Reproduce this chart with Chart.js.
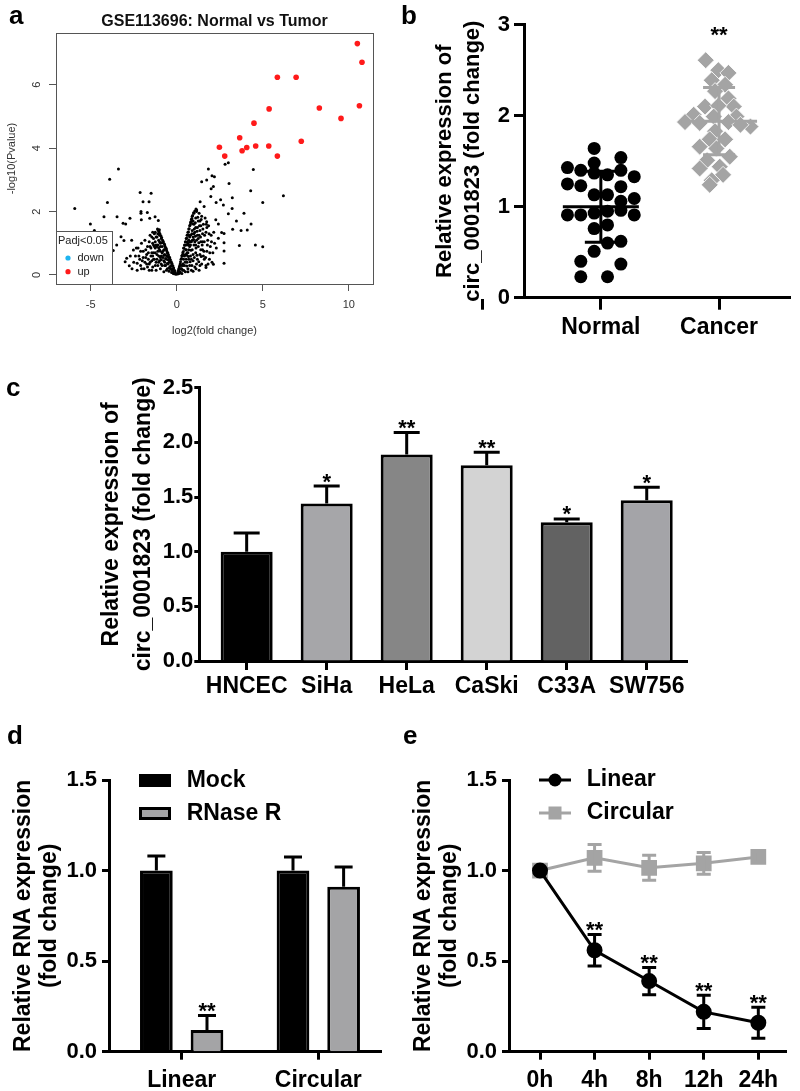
<!DOCTYPE html>
<html>
<head>
<meta charset="utf-8">
<script src="https://cdn.jsdelivr.net/npm/chart.js@4.4.1/dist/chart.umd.min.js"></script>
<style>
  body { margin: 0; background: #fff; width: 800px; height: 1091px; position: relative; overflow: hidden; }
  canvas { position: absolute; }
  .tag { position: absolute; font: bold 26px 'Liberation Sans', Arial, sans-serif; line-height: 1; }
</style>
</head>
<body>
<canvas id="chartA" width="400" height="345" style="left:0;top:0"></canvas>
<canvas id="chartB" width="400" height="345" style="left:400px;top:0"></canvas>
<canvas id="chartC" width="800" height="345" style="left:0;top:360px"></canvas>
<canvas id="chartD" width="400" height="371" style="left:0;top:720px"></canvas>
<canvas id="chartE" width="400" height="371" style="left:400px;top:720px"></canvas>
<div class="tag" style="left:9px;top:2px">a</div>
<div class="tag" style="left:401px;top:2px">b</div>
<div class="tag" style="left:6px;top:374px">c</div>
<div class="tag" style="left:7px;top:722px">d</div>
<div class="tag" style="left:403px;top:722px">e</div>
<script>
// ---- panel a: volcano plot ----
const volcanoTitle = 'GSE113696: Normal vs Tumor';
const volcanoGroups = ['down', 'up'];
const volcanoUp = [
  [10.50, 7.30], [10.77, 6.71], [5.85, 6.24], [6.94, 6.24], [5.37, 5.24], [8.29, 5.27],
  [10.62, 5.34], [9.55, 4.94], [4.49, 4.79], [3.66, 4.33], [7.24, 4.22], [2.48, 4.03],
  [4.07, 4.02], [4.59, 4.07], [5.35, 4.07], [3.80, 3.92], [2.79, 3.75], [5.85, 3.75]
];
const volcanoOutliers = [
  [-5.93, 2.10], [-5.02, 1.61], [-4.79, 1.40], [-4.23, 1.84], [-4.03, 2.29], [-3.90, 3.02],
  [-3.39, 3.34], [-3.47, 1.84], [-3.12, 1.63], [-2.97, 1.61], [-2.72, 1.79], [-3.24, 1.21],
  [-3.07, 1.09], [-3.49, 0.95], [-3.69, 0.77], [-2.62, 1.10], [-2.52, 0.79], [-2.91, 0.53],
  [-3.00, 0.42], [-2.76, 0.29], [-2.30, 0.37], [-2.13, 2.60], [-1.49, 2.58], [-1.96, 2.31],
  [-1.61, 2.31], [-2.08, 2.00], [-2.08, 1.95], [-1.71, 1.97], [-2.06, 1.74], [-1.57, 1.79],
  [-1.26, 1.84], [-1.07, 1.72], [-1.01, 1.43],
  [1.84, 3.34], [1.45, 2.94], [1.74, 3.00], [2.05, 3.13], [2.19, 3.10], [2.81, 3.49],
  [3.00, 3.54], [4.45, 3.33], [2.00, 2.72], [3.04, 2.89], [4.30, 2.66], [6.20, 2.50],
  [5.00, 2.29], [2.29, 2.29], [2.55, 2.37], [2.71, 2.21], [3.23, 2.44], [3.22, 2.10],
  [3.00, 1.93], [3.91, 1.95], [3.47, 1.70], [4.32, 1.61], [3.25, 1.44], [3.74, 1.40],
  [4.10, 1.42], [2.75, 1.31], [2.75, 1.02], [2.75, 0.76], [3.64, 0.93], [4.57, 0.95],
  [5.00, 0.89], [2.75, 0.37], [2.13, 0.34], [1.70, 0.24], [2.42, 1.61], [2.61, 1.34],
  [2.42, 1.16], [2.27, 1.74], [1.74, 1.68], [1.59, 2.16], [1.36, 2.31], [1.16, 2.05],
  [1.98, 2.48], [2.13, 2.79]
];
const volcanoCore = [
  [-0.05, 0.02], [-0.10, 0.05], [-0.15, 0.10], [-0.20, 0.20], [-0.25, 0.15], [-0.30, 0.30],
  [-0.30, 0.08], [-0.35, 0.40], [-0.40, 0.25], [-0.40, 0.50], [-0.45, 0.12], [-0.50, 0.60],
  [-0.50, 0.35], [-0.55, 0.70], [-0.55, 0.20], [-0.60, 0.50], [-0.60, 0.80], [-0.65, 0.30],
  [-0.65, 0.85], [-0.70, 0.65], [-0.70, 0.95], [-0.75, 0.10], [-0.75, 0.45], [-0.80, 1.05],
  [-0.80, 0.75], [-0.85, 0.30], [-0.85, 0.90], [-0.90, 1.15], [-0.90, 0.60], [-0.95, 0.20],
  [-0.95, 1.00], [-1.00, 1.25], [-1.00, 0.80], [-1.00, 0.45], [-1.05, 1.10], [-1.10, 0.30],
  [-1.10, 0.95], [-1.10, 1.30], [-1.15, 0.65], [-1.20, 1.20], [-1.20, 0.15], [-1.25, 0.85],
  [-1.25, 1.05], [-1.30, 0.50], [-1.30, 1.30], [-1.35, 0.70], [-1.40, 1.00], [-1.40, 0.25],
  [-1.45, 1.20], [-1.50, 0.60], [-1.50, 0.85], [-1.55, 0.40], [-1.60, 1.05], [-1.60, 0.15],
  [-1.65, 0.70], [-1.70, 0.90], [-1.75, 0.35], [-1.80, 0.55], [-1.85, 1.10], [-1.90, 0.20],
  [-1.95, 0.75], [-2.00, 0.45], [-2.05, 1.00], [-2.10, 0.30], [-2.20, 0.60], [-2.30, 0.15],
  [-2.35, 0.85], [-2.50, 0.40], [-2.60, 0.20], [-2.70, 0.60], [-0.25, 0.30], [-0.45, 0.55],
  [-0.90, 0.35], [-1.05, 0.60], [-1.15, 0.90], [-1.35, 1.15], [-1.70, 0.25], [-0.70, 0.30],
  [-0.20, 0.05], [-0.35, 0.18], [-0.80, 0.55], [-1.20, 0.40], [-1.45, 0.45], [-1.80, 0.80],
  [-0.60, 0.15], [-0.95, 0.75], [-1.30, 0.90], [-1.55, 1.25], [-2.10, 0.75], [-1.00, 1.05],
  [-0.08, 0.08], [-0.12, 0.14], [-0.18, 0.22], [-0.22, 0.28], [-0.28, 0.36], [-0.32, 0.42],
  [-0.38, 0.48], [-0.42, 0.56], [-0.48, 0.64], [-0.52, 0.70], [-0.58, 0.76], [-0.62, 0.84],
  [-0.68, 0.90], [-0.72, 0.98], [-0.78, 1.04], [-0.82, 1.10], [-0.88, 1.18], [-0.92, 1.24],
  [-0.98, 1.30], [-1.02, 1.36], [-1.08, 1.40], [-1.12, 1.45], [-0.15, 0.04], [-0.25, 0.08],
  [-0.35, 0.28], [-0.45, 0.40], [-0.55, 0.36], [-0.55, 0.58], [-0.65, 0.52], [-0.75, 0.62],
  [-0.75, 0.80], [-0.85, 0.70], [-0.85, 1.02], [-0.95, 0.90], [-0.95, 0.55], [-1.05, 0.85],
  [-1.05, 0.40], [-1.15, 1.20], [-1.15, 0.50], [-1.25, 0.70], [-1.25, 0.30], [-1.35, 0.95],
  [-1.35, 0.50], [-1.45, 0.70], [-1.45, 0.15], [-1.55, 0.90], [-1.65, 0.50], [-1.75, 0.65],
  [-1.85, 0.40], [-1.95, 0.55], [-2.05, 0.20], [-2.15, 0.50], [-2.25, 0.85], [-2.40, 0.60],
  [-1.20, 0.95], [-1.10, 0.75], [-0.65, 0.62], [-0.45, 0.22], [-0.30, 0.20], [-0.50, 0.48],
  [-0.70, 0.40], [-0.90, 0.48], [-1.40, 0.60], [-1.60, 0.35], [-1.25, 1.35], [-1.40, 1.35],
  [0.05, 0.03], [0.10, 0.15], [0.12, 0.05], [0.15, 0.25], [0.20, 0.10], [0.20, 0.35],
  [0.25, 0.50], [0.25, 0.20], [0.30, 0.60], [0.30, 0.05], [0.35, 0.35], [0.35, 0.70],
  [0.40, 0.15], [0.40, 0.85], [0.40, 0.50], [0.45, 0.95], [0.45, 0.30], [0.50, 1.05],
  [0.50, 0.65], [0.50, 0.10], [0.55, 0.80], [0.55, 1.15], [0.60, 0.40], [0.60, 1.25],
  [0.60, 0.95], [0.65, 0.20], [0.65, 1.35], [0.65, 0.70], [0.70, 1.10], [0.70, 1.45],
  [0.70, 0.50], [0.75, 0.90], [0.75, 1.55], [0.75, 0.30], [0.80, 1.25], [0.80, 1.65],
  [0.80, 0.60], [0.85, 1.05], [0.85, 0.15], [0.85, 1.75], [0.90, 1.40], [0.90, 0.80],
  [0.90, 1.85], [0.95, 0.45], [0.95, 1.20], [1.00, 1.60], [1.00, 0.95], [1.00, 1.95],
  [1.05, 0.25], [1.05, 1.35], [1.10, 1.80], [1.10, 0.70], [1.15, 1.10], [1.15, 2.00],
  [1.20, 0.50], [1.20, 1.50], [1.25, 0.90], [1.25, 1.70], [1.30, 0.15], [1.30, 1.25],
  [1.30, 1.95], [1.35, 0.65], [1.40, 1.05], [1.40, 1.55], [1.45, 0.35], [1.45, 1.85],
  [1.50, 0.80], [1.50, 1.30], [1.55, 1.60], [1.60, 0.50], [1.60, 1.05], [1.65, 1.80],
  [1.70, 0.30], [1.70, 1.35], [1.75, 0.75], [1.80, 1.10], [1.85, 1.55], [1.90, 0.50],
  [1.95, 0.90], [2.00, 1.25], [0.30, 0.30], [0.45, 0.60], [0.55, 0.50], [0.65, 1.00],
  [0.75, 1.20], [0.85, 0.50], [0.95, 1.70], [1.05, 1.05], [1.15, 0.35], [1.20, 1.25],
  [1.35, 1.40], [1.50, 1.05], [0.70, 0.80], [0.80, 0.95], [0.90, 1.10], [1.00, 1.30],
  [1.10, 1.50], [1.25, 1.15], [1.40, 0.80], [0.15, 0.10], [0.35, 0.15], [0.60, 0.70],
  [1.10, 0.95], [1.35, 1.70], [1.55, 0.60], [1.75, 1.50], [2.10, 0.70], [2.20, 1.00],
  [0.08, 0.10], [0.12, 0.20], [0.18, 0.30], [0.22, 0.42], [0.28, 0.52], [0.32, 0.62],
  [0.38, 0.74], [0.42, 0.84], [0.48, 0.94], [0.52, 1.04], [0.58, 1.16], [0.62, 1.26],
  [0.68, 1.36], [0.72, 1.46], [0.78, 1.58], [0.82, 1.68], [0.88, 1.78], [0.92, 1.88],
  [0.98, 1.96], [1.05, 2.02], [1.12, 2.08], [0.18, 0.06], [0.28, 0.20], [0.38, 0.30],
  [0.42, 0.62], [0.48, 0.40], [0.52, 0.80], [0.58, 0.28], [0.58, 0.62], [0.62, 1.05],
  [0.68, 0.58], [0.72, 0.95], [0.72, 1.25], [0.78, 0.42], [0.78, 1.05], [0.82, 0.78],
  [0.88, 1.30], [0.88, 0.30], [0.92, 1.62], [0.95, 0.65], [0.98, 1.12], [1.02, 1.45],
  [1.02, 0.55], [1.08, 1.22], [1.08, 1.65], [1.12, 0.85], [1.18, 1.38], [1.18, 0.62],
  [1.22, 1.82], [1.28, 1.02], [1.28, 0.42], [1.32, 1.55], [1.38, 1.20], [1.42, 0.58],
  [1.42, 1.75], [1.48, 0.95], [1.52, 1.45], [1.58, 0.75], [1.62, 1.25], [1.68, 0.55],
  [1.72, 1.60], [1.78, 0.95], [1.82, 0.35], [1.88, 1.30], [1.92, 0.70], [2.02, 1.05],
  [2.05, 0.40], [2.15, 1.35], [2.30, 0.85], [1.12, 0.20], [1.35, 0.30], [0.65, 0.10],
  [0.95, 0.12]
];
const volcanoXTicks = [-5, 0, 5, 10];
const volcanoYTicks = [0, 2, 4, 6];

// ---- panel b: dot plot ----
const groupNames = ['Normal', 'Cancer'];
const normalValues = [1.64, 1.54, 1.43, 1.40, 1.48, 1.37, 1.35, 1.40, 1.33, 1.25, 1.23, 1.22, 1.13, 1.13, 1.06, 1.09,
  0.91, 0.91, 0.93, 0.95, 0.96, 0.91, 0.76, 0.80, 0.60, 0.62, 0.51, 0.40, 0.37, 0.23, 0.23];
const normalCols = [-0.5, 1.5, -2.5, -1.5, -0.5, -0.5, 0.5, 1.5, 2.5, -2.5, -1.5, 1.5, -0.5, 0.5, 1.5, 2.5,
  -2.5, -1.5, -0.5, 0.5, 1.5, 2.5, -0.5, 0.5, 0.5, 1.5, -0.5, -1.5, 1.5, -1.5, 0.5];
const cancerValues = [2.61, 2.50, 2.47, 2.39, 2.34, 2.27, 2.19, 2.10, 2.10, 2.11, 2.01, 1.99, 1.99, 1.93, 1.92,
  1.93, 1.88, 1.90, 1.83, 1.74, 1.74, 1.66, 1.64, 1.55, 1.51, 1.44, 1.42, 1.35, 1.29, 1.24];
const cancerCols = [-1.0, -0.05, 0.7, -0.55, 0.45, -0.3, 0.7, -1.05, 1.1, -0.05, -1.9, 1.3, -0.4, -2.55, -1.45,
  0.7, 2.35, 1.6, -0.3, -0.7, 0.45, -1.45, -0.2, 0.8, -0.9, 0.05, -1.45, 0.3, -0.55, -0.7];
const groupMeans = [1.00, 1.94];
const groupSD = [0.39, 0.37];
const groupStars = ['', '**'];

// ---- panel c: cell lines ----
const cellLines = ['HNCEC', 'SiHa', 'HeLa', 'CaSki', 'C33A', 'SW756'];
const cellExpr = [1.00, 1.44, 1.89, 1.79, 1.27, 1.47];
const cellErr = [0.17, 0.16, 0.20, 0.12, 0.03, 0.12];
const cellStars = ['', '*', '**', '**', '*', '*'];
const cellColors = ['#000000', '#a6a6a9', '#868686', '#d3d3d3', '#626262', '#a4a4a8'];

// ---- panel d: RNase R ----
const rnaTypes = ['Linear', 'Circular'];
const mockExpr = [1.00, 1.00];
const mockErr = [0.08, 0.075];
const rnaseExpr = [0.12, 0.91];
const rnaseErr = [0.08, 0.11];
const rnaseStars = ['**', ''];

// ---- panel e: time course ----
const timePoints = ['0h', '4h', '8h', '12h', '24h'];
const linearExpr = [1.00, 0.56, 0.39, 0.22, 0.16];
const linearErr = [0, 0.087, 0.075, 0.092, 0.086];
const linearStars = ['', '**', '**', '**', '**'];
const circularExpr = [1.00, 1.07, 1.015, 1.04, 1.075];
const circularErr = [0, 0.074, 0.069, 0.06, 0.03];

const FONT = "'Liberation Sans', Arial, sans-serif";
Chart.defaults.font.family = FONT;
Chart.defaults.color = '#000';
Chart.defaults.animation = false;
Chart.defaults.plugins.legend.display = false;
Chart.defaults.plugins.tooltip.enabled = false;

const fixWidth = w => s => { s.width = w; };
const fixHeight = h => s => { s.height = h; };
const setTicks = vals => s => { s.ticks = vals.map(v => ({ value: v })); };

function drawStars(ctx, text, x, capY) {
  ctx.save();
  ctx.font = 'bold 22px ' + FONT;
  ctx.fillStyle = '#000';
  ctx.textAlign = 'center';
  ctx.textBaseline = 'alphabetic';
  ctx.fillText(text, x, capY + 2.5);
  ctx.restore();
}

// prism style y axis
function prismY(max, step, width, tickLen, pad, title, size, lh, titlePad) {
  return {
    min: 0, max: max,
    afterFit: fixWidth(width),
    border: { color: '#000', width: 3 },
    grid: { drawOnChartArea: false, tickLength: tickLen, tickWidth: 3, tickColor: '#000' },
    ticks: { stepSize: step, padding: pad, font: { size: 22, weight: 'bold' },
      callback: v => step < 1 ? v.toFixed(1) : String(v) },
    title: { display: true, text: title, font: { size: size, weight: 'bold', lineHeight: lh },
      padding: { top: titlePad, bottom: 0 } }
  };
}
function prismX(min, max, names, height, tickLen, pad) {
  return {
    type: 'linear', offset: false, min: min, max: max,
    afterBuildTicks: setTicks(names.map((n, i) => i)),
    afterFit: fixHeight(height),
    border: { color: '#000', width: 3 },
    grid: { offset: false, drawOnChartArea: false, tickLength: tickLen, tickWidth: 3, tickColor: '#000' },
    ticks: { padding: pad, autoSkip: false, maxRotation: 0, font: { size: 23, weight: 'bold' },
      callback: v => names[v] }
  };
}

const barErrors = {
  id: 'barErrors',
  afterDatasetsDraw(chart) {
    const ctx = chart.ctx, yS = chart.scales.y;
    chart.data.datasets.forEach((ds, di) => {
      chart.getDatasetMeta(di).data.forEach((bar, i) => {
        const top = yS.getPixelForValue(ds.data[i].y + ds.errors[i]);
        ctx.save();
        ctx.strokeStyle = '#000';
        ctx.lineWidth = 3;
        ctx.beginPath();
        ctx.moveTo(bar.x, bar.y);
        ctx.lineTo(bar.x, top);
        ctx.moveTo(bar.x - ds.capHalf, top);
        ctx.lineTo(bar.x + ds.capHalf, top);
        ctx.stroke();
        ctx.restore();
        if (ds.stars && ds.stars[i]) drawStars(ctx, ds.stars[i], bar.x, top);
      });
    });
  }
};

// ---------- a ----------
new Chart(document.getElementById('chartA'), {
  type: 'scatter',
  data: {
    datasets: [
      { label: 'up', data: volcanoUp.map(p => ({ x: p[0], y: p[1] })),
        backgroundColor: '#ff1a1a', pointRadius: 2.8, borderWidth: 0 },
      { label: 'ns', data: volcanoOutliers.concat(volcanoCore).map(p => ({ x: p[0], y: p[1] })),
        backgroundColor: '#000', pointRadius: 1.5, borderWidth: 0 }
    ]
  },
  options: {
    responsive: false,
    layout: { padding: { left: 0, right: 27, top: 33, bottom: 0 } },
    scales: {
      x: {
        type: 'linear', min: -7.02, max: 11.41,
        afterBuildTicks: setTicks(volcanoXTicks), afterFit: fixHeight(61),
        border: { color: '#555', width: 1 },
        grid: { drawOnChartArea: false, tickLength: 7, tickColor: '#555' },
        ticks: { padding: 7, color: '#333', font: { size: 11 } },
        title: { display: true, text: 'log2(fold change)', color: '#333', font: { size: 11 },
          padding: { top: 0, bottom: 7 } }
      },
      y: {
        min: -0.284, max: 7.634,
        afterBuildTicks: setTicks(volcanoYTicks), afterFit: fixWidth(56),
        border: { color: '#555', width: 1 },
        grid: { drawOnChartArea: false, tickLength: 7, tickColor: '#555' },
        ticks: { padding: 9, color: '#333', font: { size: 11 }, minRotation: 90, maxRotation: 90, crossAlign: 'center' },
        title: { display: true, text: '-log10(Pvalue)', color: '#333', font: { size: 11 },
          padding: { top: 5, bottom: 0 } }
      }
    }
  },
  plugins: [{
    id: 'volcanoDecor',
    afterDatasetsDraw(chart) {
      const ctx = chart.ctx, a = chart.chartArea;
      ctx.save();
      ctx.strokeStyle = '#555';
      ctx.lineWidth = 1;
      ctx.strokeRect(a.left + 0.5, a.top + 0.5, a.right - a.left, a.bottom - a.top);
      // legend box
      ctx.fillStyle = '#fff';
      ctx.fillRect(a.left, a.bottom - 53, 56, 53);
      ctx.strokeRect(a.left + 0.5, a.bottom - 52.5, 56, 53);
      ctx.font = '11px ' + FONT;
      ctx.fillStyle = '#222';
      ctx.textBaseline = 'middle';
      ctx.fillText('Padj<0.05', a.left + 2, a.bottom - 43.5);
      const colors = ['#1eb4f0', '#ff1a1a'];
      volcanoGroups.forEach((g, i) => {
        const y = a.bottom - 26 + i * 13.7;
        ctx.fillStyle = colors[i];
        ctx.beginPath();
        ctx.arc(a.left + 12, y, 2.6, 0, Math.PI * 2);
        ctx.fill();
        ctx.fillStyle = '#222';
        ctx.fillText(g, a.left + 21.5, y);
      });
      // title
      ctx.font = 'bold 16px ' + FONT;
      ctx.fillStyle = '#111';
      ctx.textAlign = 'center';
      ctx.fillText(volcanoTitle, (a.left + a.right) / 2, 22);
      ctx.restore();
    }
  }]
});

// ---------- b ----------
const colStep = 0.113;
new Chart(document.getElementById('chartB'), {
  type: 'scatter',
  data: {
    datasets: [
      { label: groupNames[0], data: normalValues.map((v, i) => ({ x: 1 + normalCols[i] * colStep, y: v })),
        backgroundColor: '#000', pointRadius: 6.5, borderWidth: 0 },
      { label: groupNames[1], data: cancerValues.map((v, i) => ({ x: 2 + cancerCols[i] * colStep, y: v })),
        backgroundColor: '#a4a4a4', borderColor: '#fff', borderWidth: 0.8, pointStyle: 'rectRot', pointRadius: 8.5 }
    ]
  },
  options: {
    responsive: false,
    layout: { padding: { left: 0, right: 10, top: 24.7, bottom: 0 } },
    scales: {
      x: prismX(0.35, 2.6, ['', ...groupNames], 47.3, 12, 4.5),
      y: prismY(3, 1, 124, 10, 4, ['Relative expression of', 'circ_0001823 (fold change)'], 22, 1.26, 31.5)
    }
  },
  plugins: [{
    id: 'meanSD',
    afterDatasetsDraw(chart) {
      const ctx = chart.ctx, xS = chart.scales.x, yS = chart.scales.y;
      const colors = ['#000', '#a4a4a4'];
      groupMeans.forEach((m, g) => {
        const cx = xS.getPixelForValue(g + 1);
        const ym = yS.getPixelForValue(m);
        const yt = yS.getPixelForValue(m + groupSD[g]);
        const yb = yS.getPixelForValue(m - groupSD[g]);
        ctx.save();
        ctx.strokeStyle = colors[g];
        ctx.lineWidth = 3;
        ctx.beginPath();
        ctx.moveTo(cx - 38, ym); ctx.lineTo(cx + 38, ym);
        ctx.moveTo(cx, yt); ctx.lineTo(cx, yb);
        ctx.moveTo(cx - 16, yt); ctx.lineTo(cx + 16, yt);
        ctx.moveTo(cx - 16, yb); ctx.lineTo(cx + 16, yb);
        ctx.stroke();
        ctx.restore();
        if (groupStars[g]) drawStars(ctx, groupStars[g], cx, yS.getPixelForValue(3) + 15);
      });
    }
  }]
});

// ---------- c ----------
new Chart(document.getElementById('chartC'), {
  type: 'bar',
  data: {
    datasets: [{
      label: 'circ_0001823',
      data: cellExpr.map((v, i) => ({ x: i, y: v })),
      backgroundColor: cellColors, borderColor: '#000', borderWidth: 3,
      barPercentage: 0.65, categoryPercentage: 1,
      errors: cellErr, stars: cellStars, capHalf: 13
    }]
  },
  options: {
    responsive: false,
    layout: { padding: { left: 0, right: 112.7, top: 27.7, bottom: 0 } },
    scales: {
      x: prismX(-0.592, 5.507, cellLines, 44, 9, 3),
      y: prismY(2.5, 0.5, 199.3, 5, 1, ['Relative expression of', 'circ_0001823 (fold change)'], 23, 1.375, 96)
    }
  },
  plugins: [barErrors]
});

// ---------- d ----------
new Chart(document.getElementById('chartD'), {
  type: 'bar',
  data: {
    datasets: [
      { label: 'Mock', data: mockExpr.map((v, i) => ({ x: i, y: v })),
        backgroundColor: '#000', borderColor: '#000', borderWidth: 3,
        categoryPercentage: 0.741, barPercentage: 0.646, errors: mockErr, capHalf: 9 },
      { label: 'RNase R', data: rnaseExpr.map((v, i) => ({ x: i, y: v })),
        backgroundColor: '#a4a4a6', borderColor: '#000', borderWidth: 3,
        categoryPercentage: 0.741, barPercentage: 0.646, errors: rnaseErr, stars: rnaseStars, capHalf: 9 }
    ]
  },
  options: {
    responsive: false,
    layout: { padding: { left: 0, right: 18.3, top: 60, bottom: 0 } },
    scales: {
      x: prismX(-0.532, 1.464, rnaTypes, 39.3, 8, 7),
      y: prismY(1.5, 0.5, 109, 7, 5, ['Relative RNA expression', '(fold change)'], 23, 1.16, 10)
    }
  },
  plugins: [barErrors, {
    id: 'legendD',
    afterDraw(chart) {
      const ctx = chart.ctx, a = chart.chartArea;
      chart.data.datasets.forEach((ds, i) => {
        const y = a.top + 0.5 + i * 33;
        ctx.save();
        ctx.fillStyle = ds.backgroundColor;
        ctx.fillRect(a.left + 31.5, y - 5, 29, 10);
        ctx.strokeStyle = '#000';
        ctx.lineWidth = 3;
        ctx.strokeRect(a.left + 31.5, y - 5, 29, 10);
        ctx.fillStyle = '#000';
        ctx.font = 'bold 23px ' + FONT;
        ctx.textBaseline = 'middle';
        ctx.fillText(ds.label, a.left + 77.7, y);
        ctx.restore();
      });
    }
  }]
});

// ---------- e ----------
new Chart(document.getElementById('chartE'), {
  type: 'line',
  data: {
    datasets: [
      { label: 'Linear', data: linearExpr.map((v, i) => ({ x: i, y: v })),
        borderColor: '#000', backgroundColor: '#000', borderWidth: 3, tension: 0,
        pointStyle: 'circle', pointRadius: 6.5, errors: linearErr, stars: linearStars },
      { label: 'Circular', data: circularExpr.map((v, i) => ({ x: i, y: v })),
        borderColor: '#a4a4a4', backgroundColor: '#a4a4a4', borderWidth: 3, tension: 0,
        pointStyle: 'rect', pointRadius: 9, errors: circularErr }
    ]
  },
  options: {
    responsive: false,
    layout: { padding: { left: 0, right: 13.3, top: 60, bottom: 0 } },
    scales: {
      x: prismX(-0.568, 4.52, timePoints, 39.3, 8, 7),
      y: prismY(1.5, 0.5, 109, 7, 5, ['Relative RNA expression', '(fold change)'], 23, 1.16, 10)
    }
  },
  plugins: [{
    id: 'lineErrors',
    afterDatasetsDraw(chart) {
      const ctx = chart.ctx, yS = chart.scales.y;
      chart.data.datasets.forEach((ds, di) => {
        chart.getDatasetMeta(di).data.forEach((pt, i) => {
          const e = ds.errors[i];
          if (!e) return;
          const v = ds.data[i].y;
          const t = yS.getPixelForValue(v + e), b = yS.getPixelForValue(v - e);
          ctx.save();
          ctx.strokeStyle = ds.borderColor;
          ctx.lineWidth = 3;
          ctx.beginPath();
          ctx.moveTo(pt.x, t); ctx.lineTo(pt.x, b);
          ctx.moveTo(pt.x - 7, t); ctx.lineTo(pt.x + 7, t);
          ctx.moveTo(pt.x - 7, b); ctx.lineTo(pt.x + 7, b);
          ctx.stroke();
          ctx.restore();
          if (ds.stars && ds.stars[i]) drawStars(ctx, ds.stars[i], pt.x, t);
        });
      });
    },
    afterDraw(chart) {
      const ctx = chart.ctx, a = chart.chartArea;
      chart.data.datasets.forEach((ds, i) => {
        const y = a.top + i * 33;
        ctx.save();
        ctx.strokeStyle = ds.borderColor;
        ctx.fillStyle = ds.backgroundColor;
        ctx.lineWidth = 3;
        ctx.beginPath();
        ctx.moveTo(a.left + 30, y);
        ctx.lineTo(a.left + 62, y);
        ctx.stroke();
        if (ds.pointStyle === 'circle') {
          ctx.beginPath();
          ctx.arc(a.left + 46, y, 6.5, 0, Math.PI * 2);
          ctx.fill();
        } else {
          ctx.fillRect(a.left + 39.5, y - 6.5, 13, 13);
        }
        ctx.fillStyle = '#000';
        ctx.font = 'bold 23px ' + FONT;
        ctx.textBaseline = 'middle';
        ctx.fillText(ds.label, a.left + 77.7, y);
        ctx.restore();
      });
    }
  }]
});
</script>
</body>
</html>
